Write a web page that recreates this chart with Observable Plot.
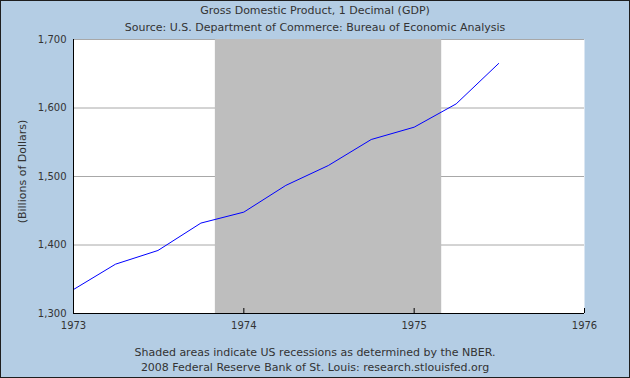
<!DOCTYPE html>
<html>
<head>
<meta charset="utf-8">
<script src="https://cdn.jsdelivr.net/npm/d3@7"></script>
<script src="https://cdn.jsdelivr.net/npm/@observablehq/plot@0.6"></script>
<style>
  html, body { margin: 0; padding: 0; background: #b4cde4; }
  #wrap { position: relative; width: 630px; height: 378px; background: #b4cde4; overflow: hidden;
          font-family: "DejaVu Sans", Verdana, sans-serif; color: #333; }
  #wrap svg { position: absolute; left: 0; top: 0; }
  .txt { position: absolute; left: 0; width: 630px; text-align: center; font-size: 11px; line-height: 14px; white-space: nowrap; }
  #border { position: absolute; left: 0; top: 0; width: 628px; height: 376px; border: 1px solid #1e1e1e; pointer-events: none; }
</style>
</head>
<body>
<div id="wrap">
  <div class="txt" id="title" style="top:4px">Gross Domestic Product, 1 Decimal (GDP)</div>
  <div class="txt" id="subtitle" style="top:21px">Source: U.S. Department of Commerce: Bureau of Economic Analysis</div>
  <div class="txt" id="note1" style="top:346px">Shaded areas indicate US recessions as determined by the NBER.</div>
  <div class="txt" id="note2" style="top:361px">2008 Federal Reserve Bank of St. Louis: research.stlouisfed.org</div>
  <div id="border"></div>
</div>
<script>
// Quarterly GDP, billions of dollars
const dates = ["1973-01-01","1973-04-01","1973-07-01","1973-10-01",
               "1974-01-01","1974-04-01","1974-07-01","1974-10-01",
               "1975-01-01","1975-04-01","1975-07-01"];
const gdp = [1335, 1372, 1392, 1432, 1448, 1487, 1516, 1554, 1572, 1606, 1665];
const recessionStart = ["1973-11-01"];
const recessionEnd = ["1975-03-01"];
const xTicks = ["1973-01-01","1974-01-01","1975-01-01","1976-01-01"];
const yTicks = [1300, 1400, 1500, 1600, 1700];
const yLabel = "(Billions of Dollars)";

const series = dates.map((d, i) => ({date: new Date(d), value: gdp[i]}));
const recessions = recessionStart.map((s, i) => ({start: new Date(s), end: new Date(recessionEnd[i])}));
const xt = xTicks.map(d => new Date(d));

const chart = Plot.plot({
  width: 630,
  height: 378,
  marginTop: 39,
  marginBottom: 65,
  marginLeft: 73,
  marginRight: 46,
  style: {background: "transparent", fontFamily: "DejaVu Sans, Verdana, sans-serif", fontSize: "10px", color: "#333"},
  x: {type: "utc", domain: [xt[0], xt[xt.length - 1]]},
  y: {domain: [yTicks[0], yTicks[yTicks.length - 1]]},
  marks: [
    Plot.frame({fill: "white", stroke: null}),
    Plot.ruleY(yTicks, {stroke: "#a8a8a8", strokeWidth: 1}),
    Plot.rect(recessions, {x1: "start", x2: "end", fill: "#bebebe"}),
    Plot.line(series, {x: "date", y: "value", stroke: "#0000ff", strokeWidth: 1}),
    Plot.ruleX([xt[0]], {stroke: "#000"}),
    Plot.ruleY([yTicks[0]], {stroke: "#000"}),
    Plot.tickX(xt.slice(1), {x: d => d, stroke: "#000", insetTop: 269}),
    Plot.axisX({ticks: xt, tickSize: 0, tickPadding: 8, tickFormat: d3.utcFormat("%Y"), label: null, fontSize: 10}),
    Plot.axisY({ticks: yTicks, tickSize: 0, tickPadding: 7, tickFormat: d3.format(","), label: null, fontSize: 10}),
    Plot.text([yLabel], {text: d => d, frameAnchor: "left", rotate: -90, dx: -51, dy: -5, fontSize: 11, fill: "#333", textAnchor: "middle", lineAnchor: "middle"})
  ]
});
document.getElementById("wrap").insertBefore(chart, document.getElementById("border"));
</script>
</body>
</html>
